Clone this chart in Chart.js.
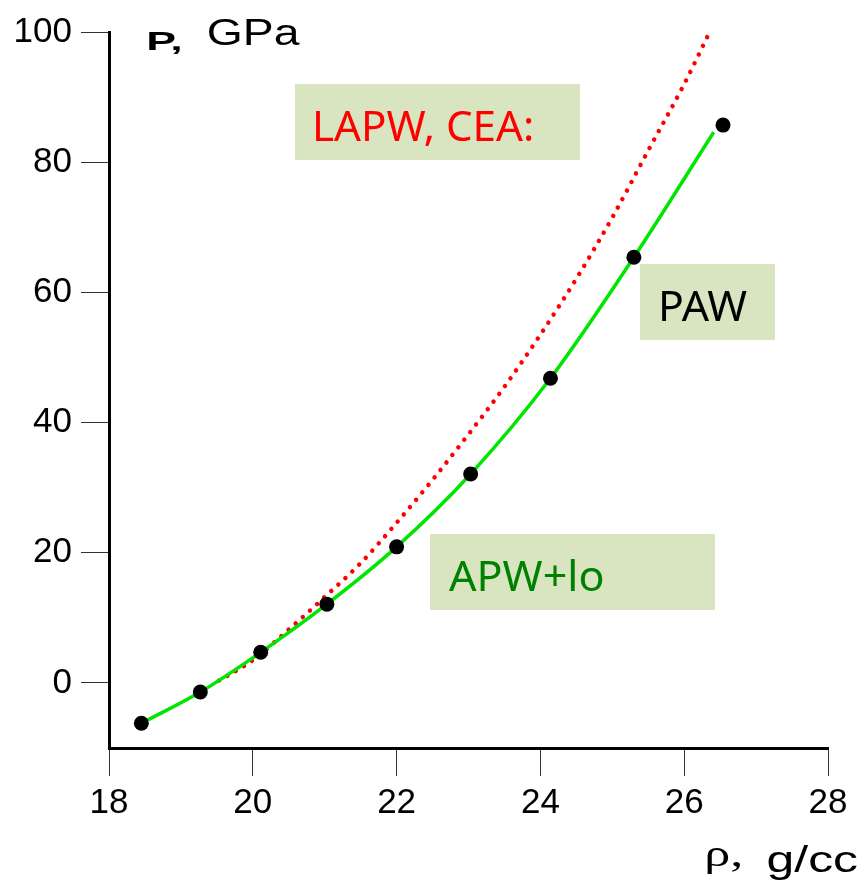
<!DOCTYPE html>
<html>
<head>
<meta charset="utf-8">
<script src="https://cdn.jsdelivr.net/npm/chart.js@4.4.1/dist/chart.umd.min.js"></script>
<style>
  html, body { margin: 0; padding: 0; background: #ffffff; }
  #wrap { position: relative; width: 859px; height: 890px; }
</style>
</head>
<body>
<div id="wrap"><canvas id="chart" width="859" height="890"></canvas></div>
<script>
// Axis ranges and tick steps
const densityRange = [18, 28];
const densityStep = 2;
const pressureRange = [-10, 100];
const pressureStep = 20;

// PAW calculation: density (g/cc) and pressure (GPa)
const pawDensity  = [18.45, 19.27, 20.11, 21.03, 22.00, 23.03, 24.14, 25.30, 26.54];
const pawPressure = [-6.2, -1.4, 4.7, 12.1, 20.9, 32.1, 46.8, 65.4, 85.7];

// APW+lo equation of state curve
const apwDensity  = [18.45, 19.27, 20.11, 21.03, 22.00, 23.03, 24.14, 25.30, 26.41];
const apwPressure = [-6.2, -1.4, 4.7, 12.1, 20.9, 32.1, 46.8, 65.4, 84.6];

// LAPW, CEA curve
const lapwDensity  = [19.53, 20.0, 20.5, 21.0, 21.5, 22.0, 22.5, 23.0, 23.5, 24.0, 24.5, 25.0, 25.5, 26.0, 26.35];
const lapwPressure = [0.35, 3.5, 8.2, 13.2, 18.4, 24.6, 31.2, 38.2, 45.5, 53.5, 62.1, 71.5, 81.8, 92.0, 99.9];

// Label text
const legendLapw = 'LAPW, CEA:';
const legendPaw = 'PAW';
const legendApw = 'APW+lo';
const yTitleSymbol = 'P,';
const yTitleUnit = 'GPa';
const xTitleSymbol = 'ρ,';
const xTitleUnit = 'g/cc';

const toPoints = (xs, ys) => xs.map((x, i) => ({ x: x, y: ys[i] }));

// Draw a string so that its ink starts at `left` and spans `inkWidth` pixels
function drawFitted(ctx, str, font, color, left, baseline, inkWidth) {
  ctx.save();
  ctx.font = font;
  const m = ctx.measureText(str);
  const w = m.actualBoundingBoxLeft + m.actualBoundingBoxRight;
  const sx = inkWidth / w;
  ctx.translate(left, baseline);
  ctx.scale(sx, 1);
  ctx.fillStyle = color;
  ctx.textAlign = 'left';
  ctx.textBaseline = 'alphabetic';
  ctx.fillText(str, m.actualBoundingBoxLeft, 0);
  ctx.restore();
}

const boxFill = '#d9e4c1';
const boxFont = '42px "Noto Sans", "Open Sans", sans-serif';

const labelsPlugin = {
  id: 'labelBoxes',
  afterDatasetsDraw(chart) {
    const ctx = chart.ctx;
    ctx.save();
    ctx.fillStyle = boxFill;
    ctx.fillRect(295, 84, 285, 76);
    ctx.fillRect(640, 264, 135, 76);
    ctx.fillRect(430, 534, 285, 76);
    ctx.restore();
    drawFitted(ctx, legendLapw, boxFont, '#ff0000', 316, 141, 216);
    drawFitted(ctx, legendPaw, boxFont, '#000000', 662, 321, 85);
    drawFitted(ctx, legendApw, boxFont, '#008000', 449, 591, 154);

    // Axis titles
    drawFitted(ctx, yTitleSymbol, 'bold 25px "Liberation Sans", Arial, sans-serif', '#000', 148, 50, 33);
    drawFitted(ctx, yTitleUnit, '37px "Liberation Sans", Arial, sans-serif', '#000', 208, 45, 92);
    drawFitted(ctx, xTitleSymbol, '37px "Liberation Serif", "Times New Roman", serif', '#000', 707, 866, 33);
    drawFitted(ctx, xTitleUnit, '36px "Liberation Sans", Arial, sans-serif', '#000', 768, 872, 90);
  }
};

const tickFont = { family: '"Liberation Sans", Arial, sans-serif', size: 35 };

new Chart(document.getElementById('chart'), {
  type: 'scatter',
  data: {
    datasets: [
      {
        label: 'PAW',
        data: toPoints(pawDensity, pawPressure),
        showLine: false,
        pointRadius: 7.5,
        pointHoverRadius: 7.5,
        pointBackgroundColor: '#000000',
        pointBorderWidth: 0,
        order: 0
      },
      {
        label: 'APW+lo',
        data: toPoints(apwDensity, apwPressure),
        showLine: true,
        pointRadius: 0,
        borderColor: '#00e600',
        borderWidth: 3.5,
        cubicInterpolationMode: 'monotone',
        order: 1
      },
      {
        label: 'LAPW, CEA',
        data: toPoints(lapwDensity, lapwPressure),
        showLine: true,
        pointRadius: 0,
        borderColor: '#ff0000',
        borderWidth: 4.5,
        borderDash: [0.01, 9.6],
        borderCapStyle: 'round',
        cubicInterpolationMode: 'monotone',
        order: 2
      }
    ]
  },
  options: {
    responsive: false,
    animation: false,
    events: [],
    layout: { padding: { left: 0, right: 31, top: 32, bottom: 0 } },
    plugins: {
      legend: { display: false },
      tooltip: { enabled: false },
      title: { display: false }
    },
    scales: {
      x: {
        type: 'linear',
        min: densityRange[0],
        max: densityRange[1],
        afterFit(scale) { scale.height = 142; },
        ticks: {
          stepSize: densityStep,
          color: '#000000',
          font: tickFont,
          padding: 6,
          maxRotation: 0
        },
        grid: {
          drawOnChartArea: false,
          drawTicks: true,
          tickLength: 28,
          color: '#333333',
          lineWidth: 1
        },
        border: { display: true, color: '#000000', width: 3 }
      },
      y: {
        type: 'linear',
        min: pressureRange[0],
        max: pressureRange[1],
        afterFit(scale) { scale.width = 109; },
        afterBuildTicks(scale) {
          scale.ticks = scale.ticks.filter(t => t.value >= 0);
        },
        ticks: {
          stepSize: pressureStep,
          color: '#000000',
          font: tickFont,
          padding: 9
        },
        grid: {
          drawOnChartArea: false,
          drawTicks: true,
          tickLength: 28,
          color: '#333333',
          lineWidth: 1
        },
        border: { display: true, color: '#000000', width: 3 }
      }
    }
  },
  plugins: [labelsPlugin]
});
</script>
</body>
</html>
